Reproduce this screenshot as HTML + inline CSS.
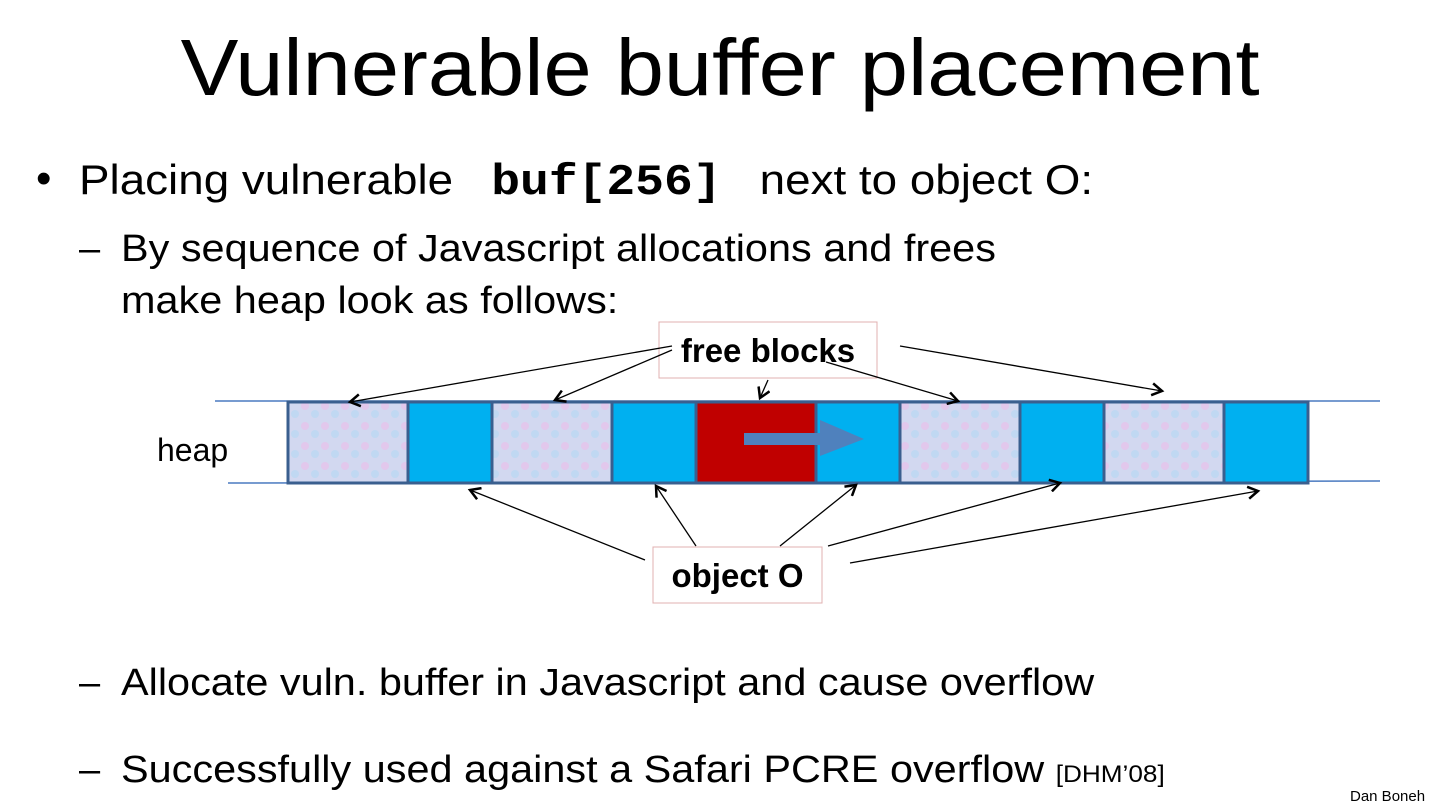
<!DOCTYPE html>
<html><head><style>
body{margin:0;width:1440px;height:810px;background:#fff;overflow:hidden;position:relative;font-family:"Liberation Sans",sans-serif;}
.t{position:absolute;white-space:nowrap;color:#000;}
.s{transform-origin:0 0;transform:scaleX(1.09);}
</style></head><body>
<div class="t" style="left:0;width:1440px;text-align:center;top:22px;font-size:80px;transform:scaleX(1.083);transform-origin:719px 0;">Vulnerable buffer placement</div>
<div class="t" style="left:36px;top:154px;font-size:44px;">•</div>
<div class="t s" style="left:79px;top:156px;font-size:42px;">Placing vulnerable &nbsp;&nbsp;<b style="font-family:'Liberation Mono',monospace;font-size:44px;">buf[256]</b> &nbsp;&nbsp;next to object O:</div>
<div class="t" style="left:79px;top:228px;font-size:38px;">–</div>
<div class="t s" style="left:121px;top:228px;font-size:38px;">By sequence of Javascript allocations and frees</div>
<div class="t s" style="left:121px;top:280px;font-size:38px;">make heap look as follows:</div>
<div class="t" style="left:79px;top:662px;font-size:38px;">–</div>
<div class="t s" style="left:121px;top:662px;font-size:38px;">Allocate vuln. buffer in Javascript and cause overflow</div>
<div class="t" style="left:79px;top:749px;font-size:38px;">–</div>
<div class="t s" style="left:121px;top:749px;font-size:38px;">Successfully used against a Safari PCRE overflow <span style="font-size:24px;">[DHM’08]</span></div>
<div class="t" style="left:1350px;top:788px;font-size:15px;">Dan Boneh</div>
<div class="t" style="left:157px;top:432px;font-size:32px;">heap</div>
<svg width="1440" height="810" style="position:absolute;left:0;top:0">
<defs>
<pattern id="p" width="20" height="20" patternUnits="userSpaceOnUse">
<rect width="20" height="20" fill="#d2d8f0"/>
<circle cx="5" cy="6" r="4" fill="#e2c8ec"/><circle cx="15" cy="14" r="4" fill="#c0d8f2"/>
</pattern>
<marker id="a" markerWidth="14" markerHeight="14" refX="11" refY="7" orient="auto" markerUnits="userSpaceOnUse"><path d="M1,1 L11,7 L1,13" fill="none" stroke="#000" stroke-width="2.5"/></marker>
</defs>
<line x1="215" y1="401" x2="1380" y2="401" stroke="#4a7ac0" stroke-width="1.5"/>
<line x1="228" y1="483" x2="1380" y2="481" stroke="#4a7ac0" stroke-width="1.5"/>
<g stroke="#3a5f8f" stroke-width="3">
<rect x="288" y="402" width="120" height="81" fill="url(#p)"/>
<rect x="408" y="402" width="84" height="81" fill="#00b0f0"/>
<rect x="492" y="402" width="120" height="81" fill="url(#p)"/>
<rect x="612" y="402" width="84" height="81" fill="#00b0f0"/>
<rect x="696" y="402" width="120" height="81" fill="#c00000"/>
<rect x="816" y="402" width="84" height="81" fill="#00b0f0"/>
<rect x="900" y="402" width="120" height="81" fill="url(#p)"/>
<rect x="1020" y="402" width="84" height="81" fill="#00b0f0"/>
<rect x="1104" y="402" width="120" height="81" fill="url(#p)"/>
<rect x="1224" y="402" width="84" height="81" fill="#00b0f0"/>
</g>
<rect x="744" y="433" width="80" height="12" fill="#4f81bd"/>
<polygon points="820,420 864,439 820,456" fill="#4f81bd"/>
<rect x="659" y="322" width="218" height="56" fill="#fff" stroke="#e0b0b0"/>
<rect x="653" y="547" width="169" height="56" fill="#fff" stroke="#e0b0b0"/>
<g stroke="#000" stroke-width="1.3" fill="none" marker-end="url(#a)">
<line x1="672" y1="346" x2="350" y2="402"/>
<line x1="672" y1="350" x2="555" y2="400"/>
<line x1="768" y1="380" x2="760" y2="398"/>
<line x1="826" y1="362" x2="958" y2="401"/>
<line x1="900" y1="346" x2="1162" y2="391"/>
<line x1="645" y1="560" x2="470" y2="490"/>
<line x1="696" y1="546" x2="656" y2="486"/>
<line x1="780" y1="546" x2="856" y2="485"/>
<line x1="828" y1="546" x2="1060" y2="483"/>
<line x1="850" y1="563" x2="1258" y2="491"/>
</g>
</svg>
<div class="t" style="left:659px;top:332px;width:218px;text-align:center;font-size:33px;font-weight:bold;">free blocks</div>
<div class="t" style="left:653px;top:557px;width:169px;text-align:center;font-size:33px;font-weight:bold;">object O</div>
</body></html>
